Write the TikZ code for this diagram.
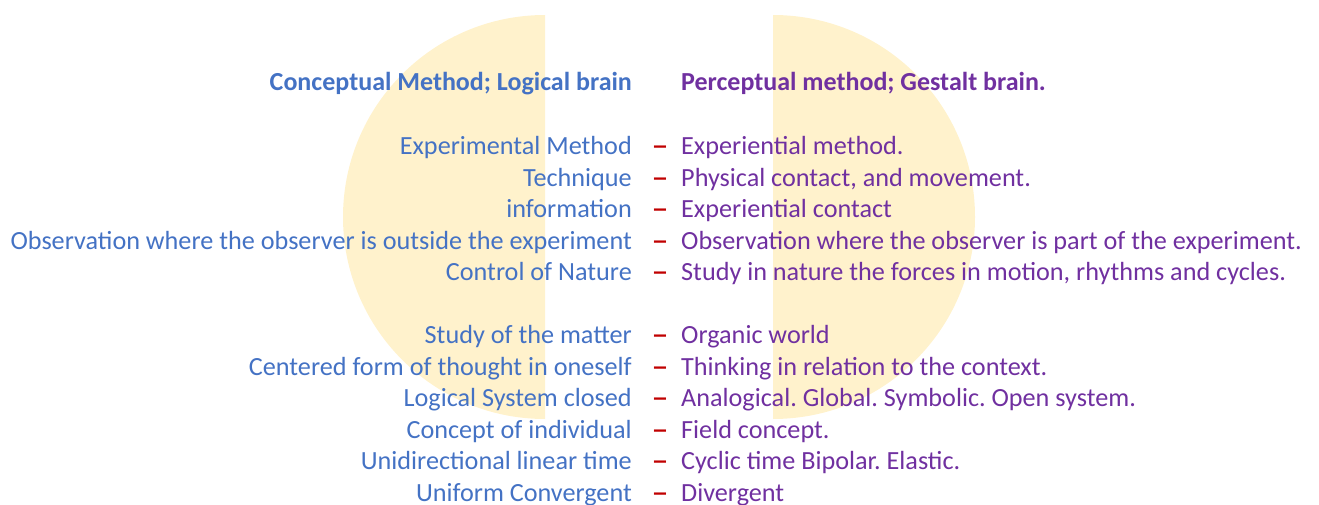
\documentclass[tikz,border=0pt]{standalone}
\usepackage{fontspec}
\setmainfont{Carlito}
\usepackage{tikz}
\frenchspacing
\definecolor{logicblue}{HTML}{4472C4}
\definecolor{gestaltpurple}{HTML}{7030A0}
\definecolor{dashred}{HTML}{C00000}
\definecolor{halfdisc}{HTML}{FFF2CC}
\tikzstyle{every node}=[inner sep=0pt, font=\fontsize{26.2}{31}\selectfont]
\tikzstyle{logic}=[anchor=base east, text=logicblue]
\tikzstyle{gestalt}=[anchor=base west, text=gestaltpurple]
\tikzstyle{sep}=[anchor=base, text=dashred, xscale=1.3, font=\fontsize{26.2}{31}\selectfont\bfseries]
\tikzstyle{heading}=[font=\fontsize{26}{31}\selectfont\bfseries]

\begin{document}
\begin{tikzpicture}[x=1pt,y=-1pt]
  \useasboundingbox (0,0) rectangle (1319,505);
  % the two yellow half discs
  \fill[halfdisc] (545,217) -- ++(0,-202) arc[start angle=-90, end angle=-270, radius=202] -- cycle;
  \fill[halfdisc] (773,217) -- ++(0,-202) arc[start angle=-90, end angle=90, radius=202] -- cycle;
  % headings
  \node[logic, heading] (logichead) at (632,91) {Conceptual Method; Logical brain};
  \node[gestalt, heading] (gestalthead) at (681,91) {Perceptual method; Gestalt brain.};
  % rows, row 5 is the gap
  \foreach \row/\lt/\rt in {
      0/{Experimental Method}/{Experiential method.},
      1/{Technique}/{Physical contact, and movement.},
      2/{information}/{Experiential contact},
      3/{Observation where the observer is outside the experiment}/{Observation where the observer is part of the experiment.},
      4/{Control of Nature}/{Study in nature the forces in motion, rhythms and cycles.},
      6/{Study of the matter}/{Organic world},
      7/{Centered form of thought in oneself}/{Thinking in relation to the context.},
      8/{Logical System closed}/{Analogical. Global. Symbolic. Open system.},
      9/{Concept of individual}/{Field concept.},
      10/{Unidirectional linear time}/{Cyclic time Bipolar. Elastic.},
      11/{Uniform Convergent}/{Divergent}} {
    \node[logic] (logic\row) at (632,154.5+31.5*\row) {\lt};
    \node[sep] (sep\row) at (660,154.5+31.5*\row) {--};
    \node[gestalt] (gestalt\row) at (681,154.5+31.5*\row) {\rt};
  }
\end{tikzpicture}
\end{document}
